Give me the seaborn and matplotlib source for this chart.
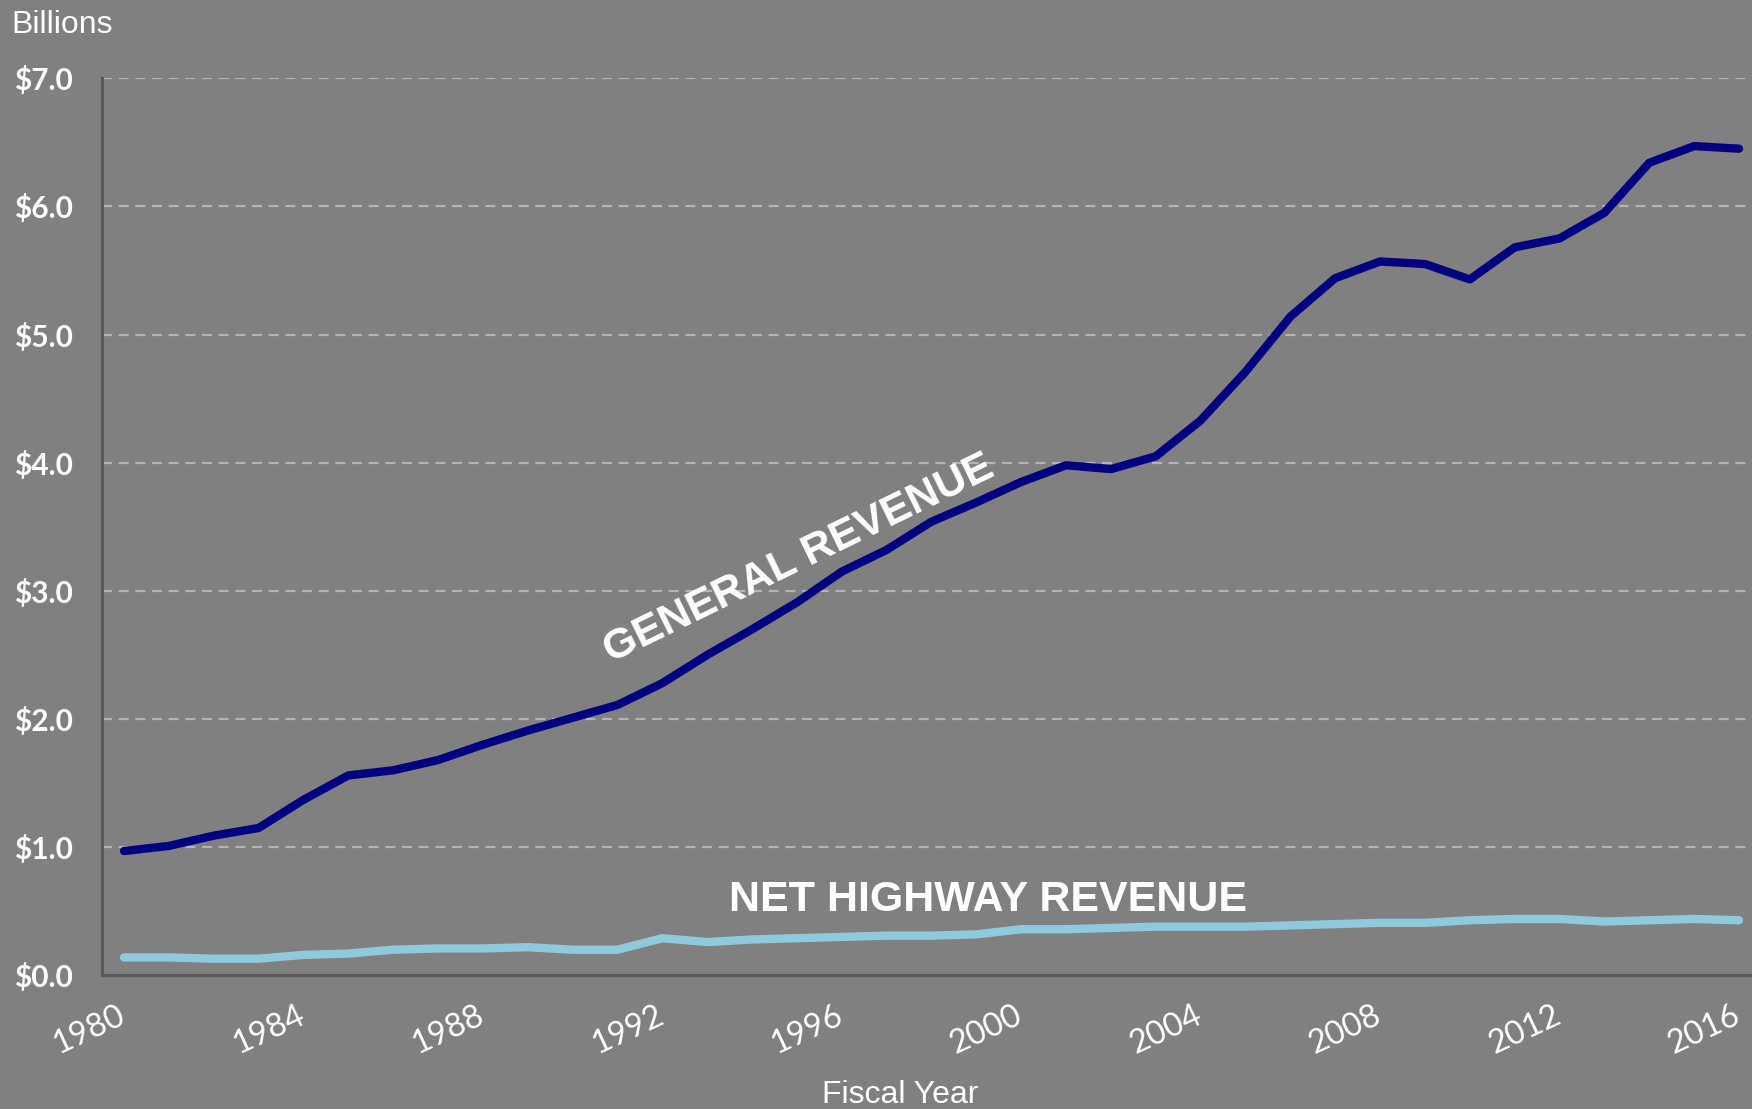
"""
General revenue vs. net highway revenue, fiscal years 1980-2016.
"""

import numpy as np
import pandas as pd
import matplotlib
matplotlib.use("Agg")
import matplotlib.pyplot as plt
from matplotlib.transforms import ScaledTranslation
import seaborn as sns

# ---- data (billions of dollars) ----
years = list(range(1980, 2017))
general_revenue = [
    0.97, 1.01, 1.09, 1.15, 1.37, 1.56, 1.60, 1.68, 1.80, 1.91,
    2.01, 2.11, 2.28, 2.50, 2.70, 2.91, 3.15, 3.32, 3.54, 3.69,
    3.85, 3.98, 3.95, 4.05, 4.33, 4.71, 5.14, 5.44, 5.57, 5.55,
    5.43, 5.68, 5.75, 5.95, 6.34, 6.47, 6.45,
]
net_highway_revenue = [
    0.14, 0.14, 0.13, 0.13, 0.16, 0.17, 0.20, 0.21, 0.21, 0.22,
    0.20, 0.20, 0.29, 0.26, 0.28, 0.29, 0.30, 0.31, 0.31, 0.32,
    0.36, 0.36, 0.37, 0.38, 0.38, 0.38, 0.39, 0.40, 0.41, 0.41,
    0.43, 0.44, 0.44, 0.42, 0.43, 0.44, 0.43,
]
y_ticks = [0, 1, 2, 3, 4, 5, 6, 7]
label_years = list(range(1980, 2017, 4))

BG = "#808080"
NAVY = "#000080"
LIGHT = "#8FCADC"
SPINE = "#595959"

df = pd.DataFrame({
    "Year": years * 2,
    "Revenue": general_revenue + net_highway_revenue,
    "Series": ["General"] * len(years) + ["Highway"] * len(years),
})

sns.set_style("white", {"axes.facecolor": BG, "figure.facecolor": BG})
plt.rcParams["font.family"] = ["Liberation Sans", "DejaVu Sans"]

fig = plt.figure(figsize=(17.52, 11.09), dpi=100)
ax = fig.add_axes([0.058, 0.1205, 0.942, 0.809])

sns.lineplot(data=df, x="Year", y="Revenue", hue="Series",
             palette={"General": NAVY, "Highway": LIGHT},
             linewidth=6, legend=False, ax=ax)
for line in ax.get_lines():
    line.set_solid_capstyle("round")

ax.set_xlim(1979.5, 2016.29)
ax.set_ylim(0, 7)

# grid
for v in y_ticks[1:]:
    ax.axhline(v, color="#B4B4B4", lw=1.6, ls=(0, (4.5, 3)), zorder=0)

# spines
for s in ["top", "right"]:
    ax.spines[s].set_visible(False)
for s in ["left", "bottom"]:
    ax.spines[s].set_color(SPINE)
    ax.spines[s].set_linewidth(2.2)

# y axis
ax.set_yticks(y_ticks)
ax.set_yticklabels([f"${v:.1f}" for v in y_ticks],
                   fontfamily="Lato", fontweight="bold", fontsize=21.5, color="white")
ax.tick_params(axis="y", length=7, width=2.2, color=SPINE, pad=14)

# x axis: tick marks at category boundaries, labels at category centers
ax.set_xticks([y - 0.5 for y in label_years])
ax.set_xticklabels([])
ax.tick_params(axis="x", which="major", length=7, width=2.2, color=SPINE)
ax.set_xticks(label_years, minor=True)
ax.set_xticklabels([str(y) for y in label_years], minor=True,
                   fontfamily="Lato", fontsize=23.5, color="white",
                   rotation=25, ha="right", rotation_mode="anchor")
ax.tick_params(axis="x", which="minor", length=0, pad=18)
shift = ScaledTranslation(-7 / 100, 0, fig.dpi_scale_trans)
for lab in ax.xaxis.get_minorticklabels():
    lab.set_transform(lab.get_transform() + shift)

ax.set_xlabel("")
ax.set_ylabel("")

# annotations
ax.text(1995.04, 3.25, "GENERAL REVENUE", fontsize=31, fontweight="bold",
        color="white", rotation=26, ha="center", va="center")
ax.text(1999.25, 0.59, "NET HIGHWAY REVENUE", fontsize=31, fontweight="bold",
        color="white", ha="center", va="center")

fig.text(0.0063, 0.970, "Billions", fontsize=23, color="white", ha="left", va="baseline")
fig.text(0.514, 0.005, "Fiscal Year", fontsize=23, color="white", ha="center", va="baseline")

fig.savefig("out.png", dpi=100, facecolor=BG)
